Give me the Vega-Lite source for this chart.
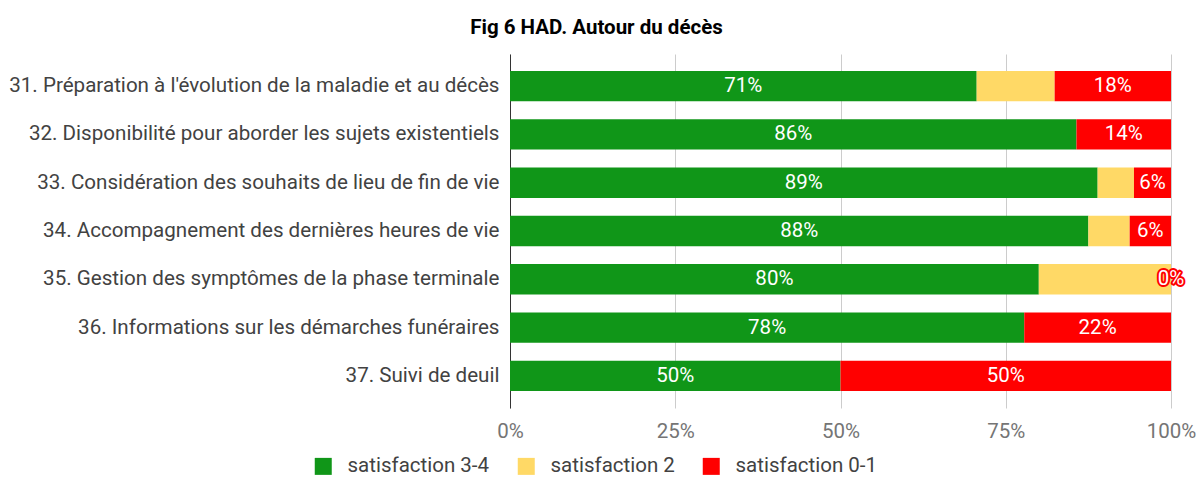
{
  "$schema": "https://vega.github.io/schema/vega-lite/v6.json",
  "width": 661,
  "height": 354,
  "autosize": {"type": "none"},
  "padding": {"left": 510, "top": 54, "right": 26, "bottom": 69},
  "background": "white",
  "config": {
    "font": "Roboto",
    "view": {"stroke": null}
  },
  "title": {
    "text": "Fig 6 HAD. Autour du décès",
    "font": "Roboto",
    "fontSize": 20.5,
    "fontWeight": "bold",
    "color": "#000000",
    "anchor": "middle",
    "dx": -244,
    "offset": 16
  },
  "data": {
    "values": [
      {"item": "31. Préparation à l'évolution de la maladie et au décès", "serie": "satisfaction 3-4", "order": 1, "value": 0.706},
      {"item": "31. Préparation à l'évolution de la maladie et au décès", "serie": "satisfaction 2", "order": 2, "value": 0.118},
      {"item": "31. Préparation à l'évolution de la maladie et au décès", "serie": "satisfaction 0-1", "order": 3, "value": 0.176},
      {"item": "32. Disponibilité pour aborder les sujets existentiels", "serie": "satisfaction 3-4", "order": 1, "value": 0.857},
      {"item": "32. Disponibilité pour aborder les sujets existentiels", "serie": "satisfaction 0-1", "order": 3, "value": 0.143},
      {"item": "33. Considération des souhaits de lieu de fin de vie", "serie": "satisfaction 3-4", "order": 1, "value": 0.889},
      {"item": "33. Considération des souhaits de lieu de fin de vie", "serie": "satisfaction 2", "order": 2, "value": 0.055},
      {"item": "33. Considération des souhaits de lieu de fin de vie", "serie": "satisfaction 0-1", "order": 3, "value": 0.056},
      {"item": "34. Accompagnement des dernières heures de vie", "serie": "satisfaction 3-4", "order": 1, "value": 0.875},
      {"item": "34. Accompagnement des dernières heures de vie", "serie": "satisfaction 2", "order": 2, "value": 0.0625},
      {"item": "34. Accompagnement des dernières heures de vie", "serie": "satisfaction 0-1", "order": 3, "value": 0.0625},
      {"item": "35. Gestion des symptômes de la phase terminale", "serie": "satisfaction 3-4", "order": 1, "value": 0.8},
      {"item": "35. Gestion des symptômes de la phase terminale", "serie": "satisfaction 2", "order": 2, "value": 0.2},
      {"item": "35. Gestion des symptômes de la phase terminale", "serie": "satisfaction 0-1", "order": 3, "value": 0},
      {"item": "36. Informations sur les démarches funéraires", "serie": "satisfaction 3-4", "order": 1, "value": 0.778},
      {"item": "36. Informations sur les démarches funéraires", "serie": "satisfaction 0-1", "order": 3, "value": 0.222},
      {"item": "37. Suivi de deuil", "serie": "satisfaction 3-4", "order": 1, "value": 0.5},
      {"item": "37. Suivi de deuil", "serie": "satisfaction 0-1", "order": 3, "value": 0.5}
    ]
  },
  "encoding": {
    "y": {
      "field": "item",
      "type": "nominal",
      "sort": null,
      "scale": {"paddingInner": 0.37, "paddingOuter": 0.35},
      "axis": {
        "title": null,
        "ticks": false,
        "domain": true,
        "domainColor": "#333333",
        "domainWidth": 1,
        "labelFont": "Roboto",
        "labelFontSize": 20.6,
        "labelColor": "#424242",
        "labelPadding": 11,
        "labelLimit": 0
      }
    }
  },
  "layer": [
    {
      "mark": {"type": "bar"},
      "encoding": {
        "x": {
          "field": "value",
          "type": "quantitative",
          "stack": "zero",
          "scale": {"domain": [0, 1], "nice": false},
          "axis": {
            "title": null,
            "format": ".0%",
            "values": [0, 0.25, 0.5, 0.75, 1],
            "domain": false,
            "ticks": false,
            "grid": true,
            "gridColor": "#cccccc",
            "labelFont": "Roboto",
            "labelFontSize": 20.5,
            "labelColor": "#757575",
            "labelPadding": 13,
            "labelFlush": false
          }
        },
        "order": {"field": "order", "type": "quantitative"},
        "color": {
          "field": "serie",
          "type": "nominal",
          "scale": {
            "domain": ["satisfaction 3-4", "satisfaction 2", "satisfaction 0-1"],
            "range": ["#109618", "#ffd966", "#ff0000"]
          },
          "legend": {
            "title": null,
            "orient": "none",
            "direction": "horizontal",
            "legendX": -197,
            "legendY": 402,
            "symbolType": "square",
            "symbolSize": 289,
            "symbolStrokeWidth": 0,
            "labelFont": "Roboto",
            "labelFontSize": 20.5,
            "labelColor": "#424242",
            "labelOffset": 14,
            "columnPadding": 26
          }
        }
      }
    },
    {
      "mark": {"type": "text", "color": "#ff0000", "font": "Roboto", "fontSize": 20.5, "stroke": "#ff0000", "strokeWidth": 4, "strokeJoin": "round"},
      "encoding": {
        "x": {"field": "value", "type": "quantitative", "stack": "zero", "bandPosition": 0.5},
        "order": {"field": "order", "type": "quantitative"},
        "detail": {"field": "serie", "type": "nominal"},
        "text": {
          "condition": {"test": "datum.value === 0", "field": "value", "type": "quantitative", "format": ".0%"},
          "value": ""
        }
      }
    },
    {
      "mark": {"type": "text", "color": "white", "font": "Roboto", "fontSize": 20.5},
      "encoding": {
        "x": {"field": "value", "type": "quantitative", "stack": "zero", "bandPosition": 0.5},
        "order": {"field": "order", "type": "quantitative"},
        "detail": {"field": "serie", "type": "nominal"},
        "text": {
          "condition": {"test": "datum.serie === 'satisfaction 2'", "value": ""},
          "field": "value",
          "type": "quantitative",
          "format": ".0%"
        }
      }
    }
  ]
}
